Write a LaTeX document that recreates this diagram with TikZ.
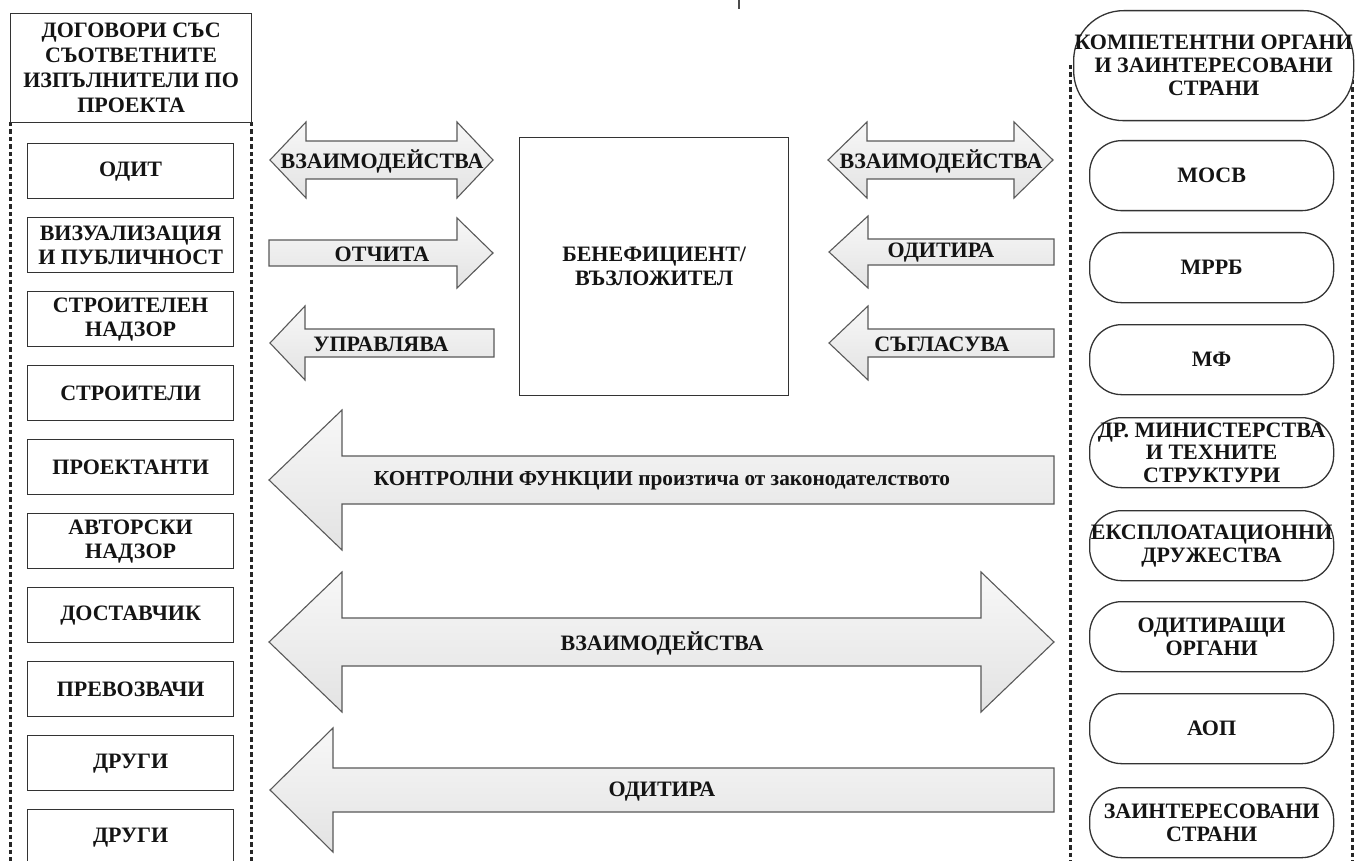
\documentclass[tikz,border=0pt]{standalone}
\usepackage{fontspec}
\setmainfont{Liberation Serif}
\newcommand{\arrR}[6]{\draw[arrowshape] (#1,#3-#4) -- (#2-#6,#3-#4) -- (#2-#6,#3-#5) -- (#2,#3) -- (#2-#6,#3+#5) -- (#2-#6,#3+#4) -- (#1,#3+#4) -- cycle;}
\newcommand{\arrL}[6]{\draw[arrowshape] (#2,#3-#4) -- (#1+#6,#3-#4) -- (#1+#6,#3-#5) -- (#1,#3) -- (#1+#6,#3+#5) -- (#1+#6,#3+#4) -- (#2,#3+#4) -- cycle;}
\newcommand{\arrD}[6]{\draw[arrowshape] (#1,#3) -- (#1+#6,#3-#5) -- (#1+#6,#3-#4) -- (#2-#6,#3-#4) -- (#2-#6,#3-#5) -- (#2,#3) -- (#2-#6,#3+#5) -- (#2-#6,#3+#4) -- (#1+#6,#3+#4) -- (#1+#6,#3+#5) -- cycle;}
\begin{document}
\begin{tikzpicture}[x=1pt,y=-1pt,
  txt/.style={font=\bfseries\fontsize{22}{24}\selectfont, text=black!92, align=center, inner sep=0pt},
  rectbox/.style={txt, draw=black!80, line width=1.3pt, fill=white, minimum width=206pt, minimum height=55pt, anchor=north west},
  ovalbox/.style={txt, draw=black!80, line width=1.3pt, fill=white, rounded corners=32pt, minimum width=244pt, minimum height=70pt, anchor=north west, font=\bfseries\fontsize{22}{23}\selectfont},
  arrowshape/.style={draw=black!65, line width=1.1pt, top color=black!3, bottom color=black!11, line join=miter},
  dotline/.style={draw=black!85, line width=3pt, dash pattern=on 4.5pt off 3pt},
  lbl/.style={txt},
]
\useasboundingbox (0,0) rectangle (1360,861);
\clip (0,0) rectangle (1360,861);
\fill[white] (0,0) rectangle (1360,861);

% dotted frame lines
\coordinate (l1t) at (10,122);   \coordinate (l1b) at (10,861);
\coordinate (l2t) at (251,122);  \coordinate (l2b) at (251,861);
\coordinate (r1t) at (1070,65);  \coordinate (r1b) at (1070,861);
\coordinate (r2t) at (1352,65);  \coordinate (r2b) at (1352,861);
\draw[dotline] (l1t) -- (l1b);
\draw[dotline] (l2t) -- (l2b);
\draw[dotline] (r1t) -- (r1b);
\draw[dotline] (r2t) -- (r2b);

% stray mark at top
\coordinate (m1) at (739,0); \coordinate (m2) at (739,9);
\draw[black!70, line width=1.5pt] (m1) -- (m2);

% left column
\node[rectbox, minimum width=241pt, minimum height=109pt, font=\bfseries\fontsize{22}{25}\selectfont] (hdrL) at (10,13) {ДОГОВОРИ СЪС\\СЪОТВЕТНИТЕ\\ИЗПЪЛНИТЕЛИ ПО\\ПРОЕКТА};
\node[rectbox] (b1) at (27,143) {ОДИТ};
\node[rectbox] (b2) at (27,217) {ВИЗУАЛИЗАЦИЯ\\И ПУБЛИЧНОСТ};
\node[rectbox] (b3) at (27,291) {СТРОИТЕЛЕН\\НАДЗОР};
\node[rectbox] (b4) at (27,365) {СТРОИТЕЛИ};
\node[rectbox] (b5) at (27,439) {ПРОЕКТАНТИ};
\node[rectbox] (b6) at (27,513) {АВТОРСКИ\\НАДЗОР};
\node[rectbox] (b7) at (27,587) {ДОСТАВЧИК};
\node[rectbox] (b8) at (27,661) {ПРЕВОЗВАЧИ};
\node[rectbox] (b9) at (27,735) {ДРУГИ};
\node[rectbox] (b10) at (27,809) {ДРУГИ};

% right column
\node[ovalbox, rounded corners=50pt, minimum width=280pt, minimum height=110pt] (hdrR) at (1073,10) {КОМПЕТЕНТНИ ОРГАНИ\\И ЗАИНТЕРЕСОВАНИ\\СТРАНИ};
\node[ovalbox] (o1) at (1089,140) {МОСВ};
\node[ovalbox] (o2) at (1089,232) {МРРБ};
\node[ovalbox] (o3) at (1089,324) {МФ};
\node[ovalbox, font=\bfseries\fontsize{22}{22.5}\selectfont] (o4) at (1089,417) {ДР. МИНИСТЕРСТВА\\И ТЕХНИТЕ\\СТРУКТУРИ};
\node[ovalbox] (o5) at (1089,510) {ЕКСПЛОАТАЦИОННИ\\ДРУЖЕСТВА};
\node[ovalbox] (o6) at (1089,601) {ОДИТИРАЩИ\\ОРГАНИ};
\node[ovalbox] (o7) at (1089,693) {АОП};
\node[ovalbox] (o8) at (1089,787) {ЗАИНТЕРЕСОВАНИ\\СТРАНИ};

% central box
\node[txt, draw=black!80, line width=1.3pt, fill=white, minimum width=269pt, minimum height=258pt, anchor=north west] (ben) at (519,137) {БЕНЕФИЦИЕНТ/\\ВЪЗЛОЖИТЕЛ};

% small arrows left
\arrD{270}{493}{160}{19}{38}{36}
\node[lbl] (a1) at (382,161) {ВЗАИМОДЕЙСТВА};
\arrR{269}{493}{253}{13}{35}{36}
\node[lbl] (a2) at (382,254) {ОТЧИТА};
\arrL{270}{494}{343}{14}{37}{35}
\node[lbl] (a3) at (381,344) {УПРАВЛЯВА};

% small arrows right
\arrD{828}{1053}{160}{19}{38}{39}
\node[lbl] (a4) at (941,161) {ВЗАИМОДЕЙСТВА};
\arrL{829}{1054}{252}{13}{36}{39}
\node[lbl] (a5) at (941,253) {ОДИТИРА};
\arrL{829}{1054}{343}{14}{37}{39}
\node[lbl] (a6) at (942,344) {СЪГЛАСУВА};

% big arrows
\arrL{269}{1054}{480}{24}{70}{73}
\node[lbl, font=\bfseries\fontsize{21.3}{24}\selectfont] (a7) at (662,481) {КОНТРОЛНИ ФУНКЦИИ произтича от законодателството};
\arrD{269}{1054}{642}{24}{70}{73}
\node[lbl] (a8) at (662,643) {ВЗАИМОДЕЙСТВА};
\arrL{270}{1054}{790}{22}{62}{63}
\node[lbl] (a9) at (662,792) {ОДИТИРА};
\end{tikzpicture}
\end{document}
